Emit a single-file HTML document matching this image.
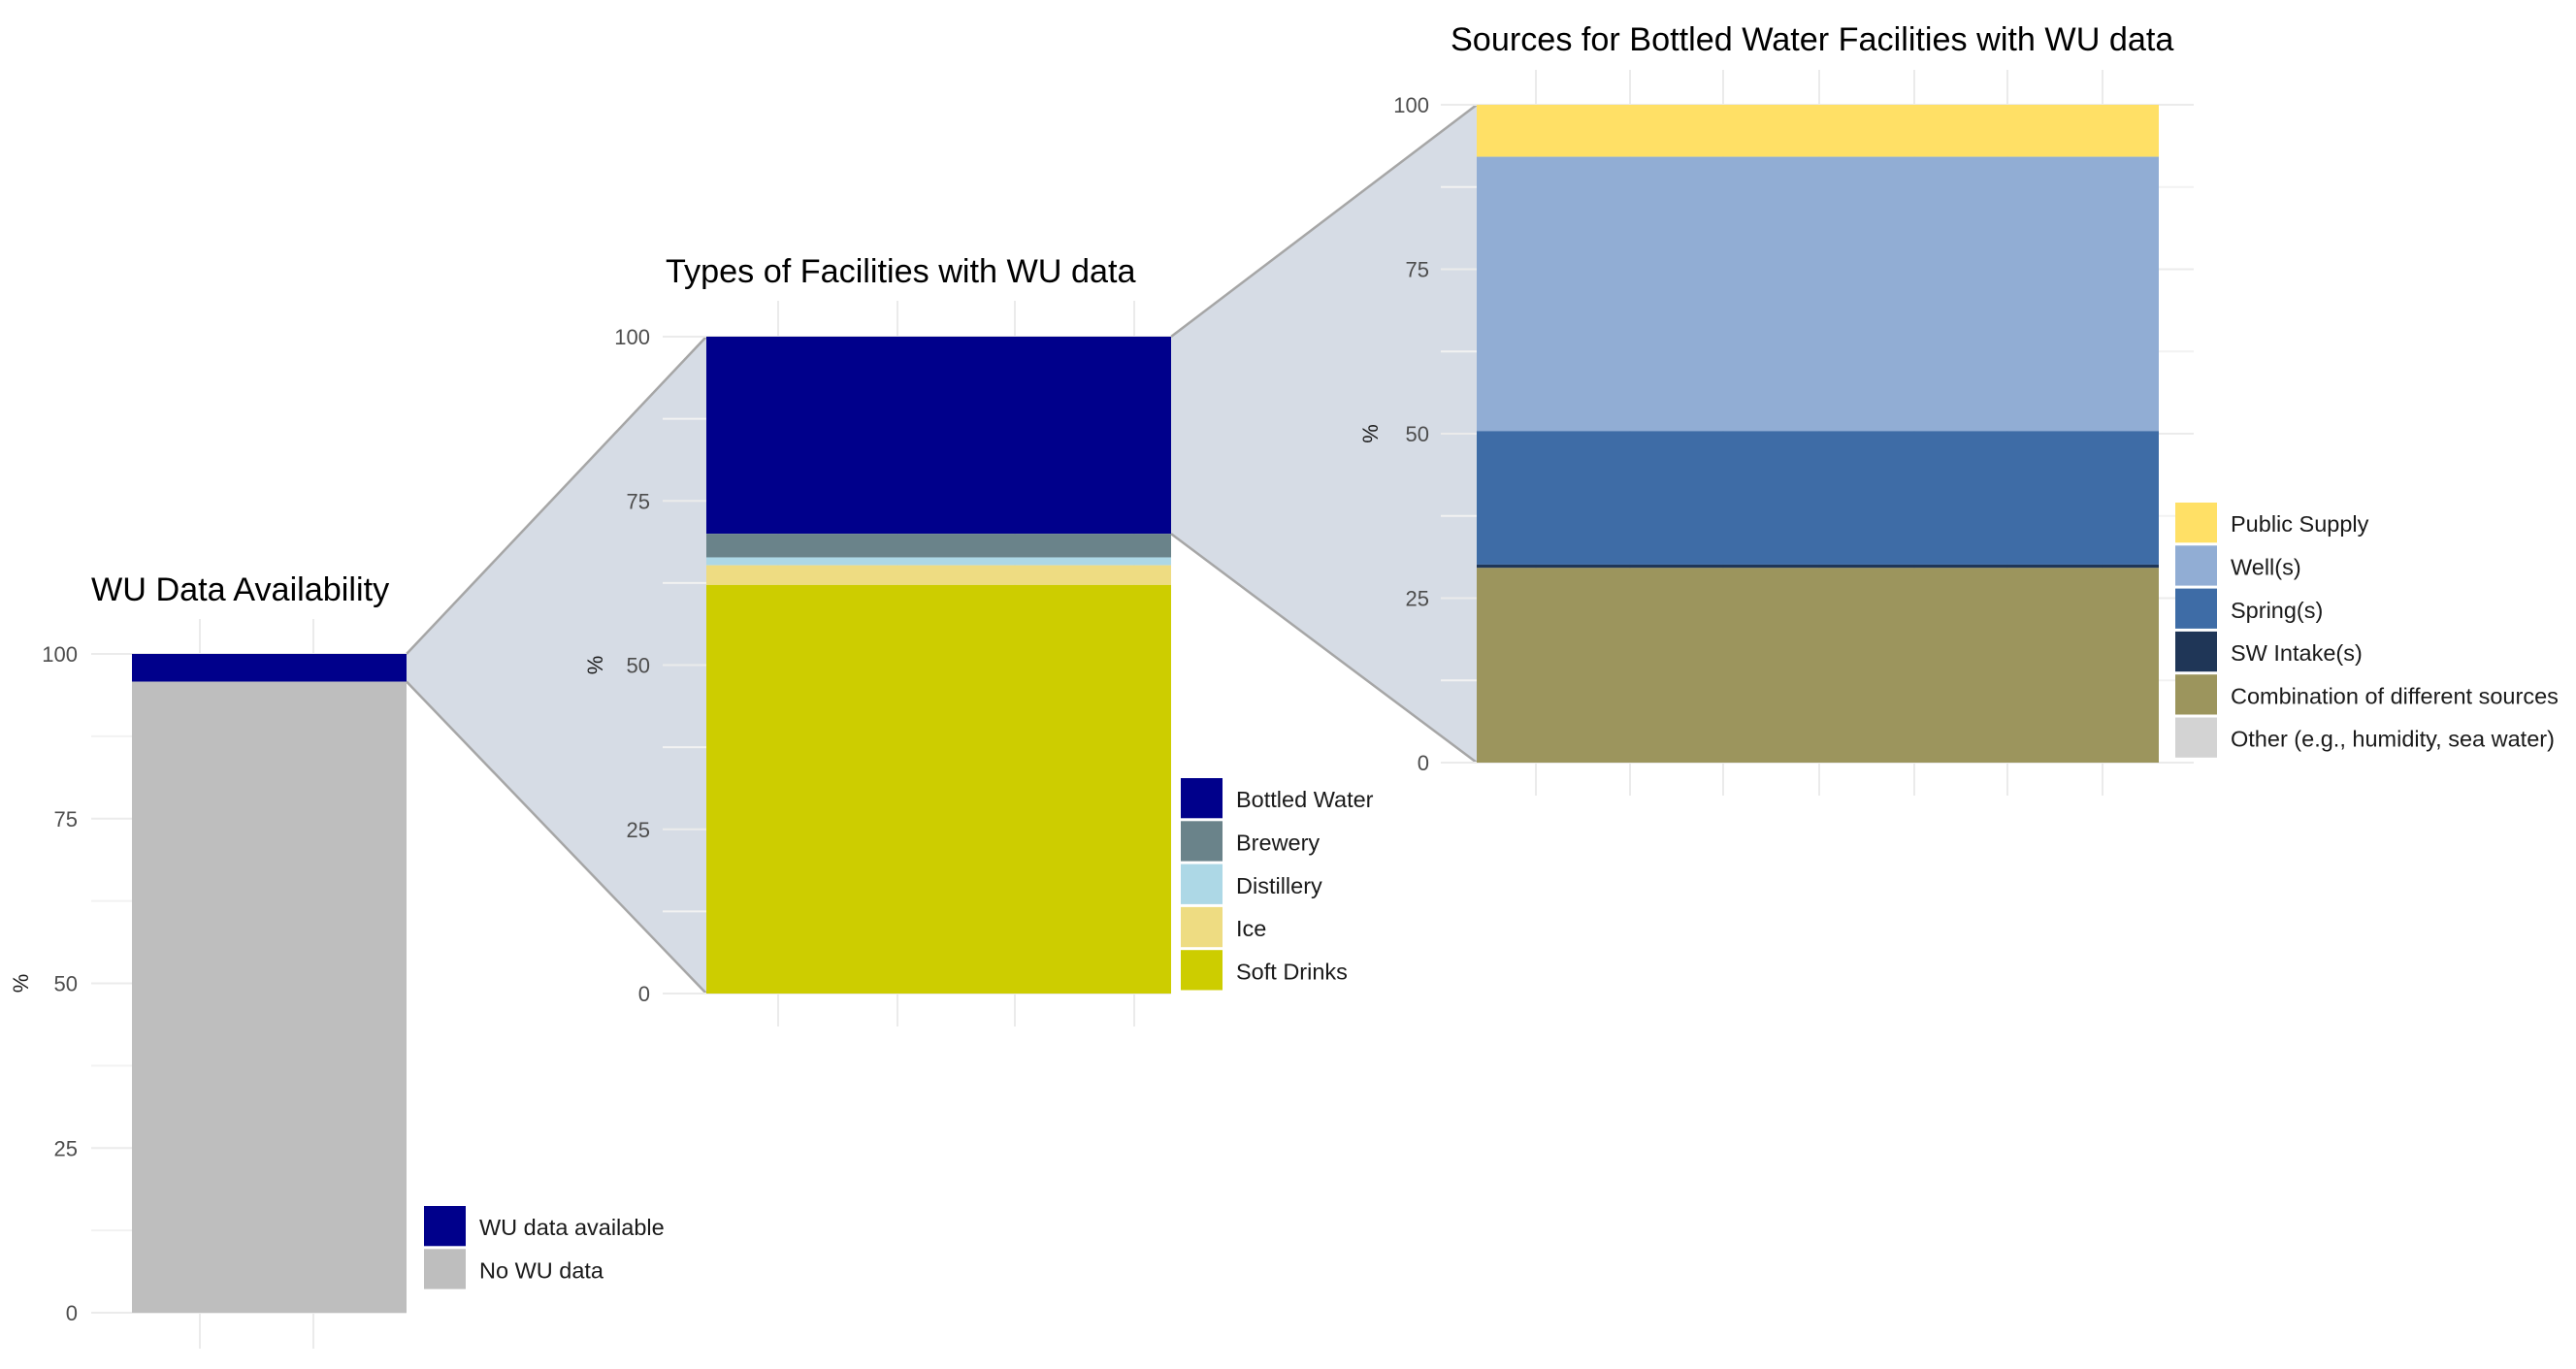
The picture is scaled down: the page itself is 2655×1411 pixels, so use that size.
<!DOCTYPE html>
<html><head><meta charset="utf-8"><style>
html,body{margin:0;padding:0;background:#fff;}
svg{display:block;font-family:"Liberation Sans",Arial,sans-serif;}
</style></head><body>
<svg id="c" width="2655" height="1411" viewBox="0 0 2655 1411" xmlns="http://www.w3.org/2000/svg"></svg>
<script>
// ---- data ----
const p1Cats = ["WU data available", "No WU data"];
const p1Vals = [4.2, 95.8];
const p1Cols = ["#00008b", "#bebebe"];
const p2Cats = ["Bottled Water", "Brewery", "Distillery", "Ice", "Soft Drinks"];
const p2Vals = [30.0, 3.6, 1.2, 3.0, 62.2];
const p2Cols = ["#00008b", "#6a838a", "#add8e6", "#eedc82", "#cdcd00"];
const p3Cats = ["Public Supply", "Well(s)", "Spring(s)", "SW Intake(s)", "Combination of different sources", "Other (e.g., humidity, sea water)"];
const p3Vals = [7.9, 41.7, 20.3, 0.5, 29.6, 0];
const p3Cols = ["#ffe066", "#91adD4", "#3e6ca6", "#1f3657", "#9c955d", "#d3d3d3"];
const yTicks = [0, 25, 50, 75, 100];

const NS = "http://www.w3.org/2000/svg";
const svg = document.getElementById("c");
function mk(tag, attrs, parent) {
  const e = document.createElementNS(NS, tag);
  for (const k in attrs) e.setAttribute(k, attrs[k]);
  (parent || svg).appendChild(e);
  return e;
}

const panels = [
  {cats:p1Cats, vals:p1Vals, cols:p1Cols, x0:136, x1:419, y0:1353, y100:674, gl:94, gTop:638, gBot:1390, vgrid:[206,323], title:"WU Data Availability", tx:94, ty:619, lblX:80, pctX:22, legX:437, legY:1243, legDy:44.3, name:"availability"},
  {cats:p2Cats, vals:p2Vals, cols:p2Cols, x0:728, x1:1207, y0:1024, y100:347, gl:683, gTop:310, gBot:1058, vgrid:[802,925,1046,1169], title:"Types of Facilities with WU data", tx:686, ty:291, lblX:670, pctX:614, legX:1217, legY:802, legDy:44.3, name:"facility-types"},
  {cats:p3Cats, vals:p3Vals, cols:p3Cols, x0:1522, x1:2225, y0:786, y100:108, gl:1485, gTop:72, gBot:820, vgrid:[1583,1680,1776,1875,1973,2069,2167], title:"Sources for Bottled Water Facilities with WU data", tx:1495, ty:52, lblX:1473, pctX:1413, legX:2242, legY:518, legDy:44.3, name:"bottled-sources"}
];
panels.forEach(p => { p.y = v => p.y0 - (p.y0 - p.y100) * v / 100; });

function wedge(a, b, segIdx, name) {
  let top = 100;
  for (let i = 0; i < segIdx; i++) top -= a.vals[i];
  const bot = top - a.vals[segIdx];
  const poly = mk("polygon", {
    points: `${a.x1},${a.y(top)} ${b.x0},${b.y(100)} ${b.x0},${b.y(0)} ${a.x1},${a.y(bot)}`,
    fill: "#d6dce5", stroke: "none"
  });
  
  
  const l1 = mk("line", {x1:a.x1, y1:a.y(top), x2:b.x0, y2:b.y(100), stroke:"#a6a6a6", "stroke-width":2.5});
  
  
  const l2 = mk("line", {x1:a.x1, y1:a.y(bot), x2:b.x0, y2:b.y(0), stroke:"#a6a6a6", "stroke-width":2.5});
  
  
}
wedge(panels[0], panels[1], 0, "zoom-wedge-1");
wedge(panels[1], panels[2], 0, "zoom-wedge-2");

panels.forEach(p => {
  const g = mk("g", {});
  
  
  p.vgrid.forEach(x => {
    const l = mk("line", {x1:x, x2:x, y1:p.gTop, y2:p.gBot, stroke:"#ebebeb", "stroke-width":2}, g);
    
    
  });
  for (let v = 0; v <= 100; v += 12.5) {
    const l = mk("line", {x1:p.gl, x2:p.x1 + (p === panels[2] ? 36 : 0), y1:p.y(v), y2:p.y(v), stroke: v % 25 === 0 ? "#ebebeb" : "#f2f2f2", "stroke-width":2}, g);
    
    
  }
  yTicks.forEach(v => {
    const t = mk("text", {x:p.lblX, y:p.y(v) + 8, "text-anchor":"end", "font-size":22, fill:"#4d4d4d"}, g);
    t.textContent = v;
    
    
  });
  const pt = mk("text", {x:0, y:0, "font-size":22, fill:"#1a1a1a", "text-anchor":"middle", transform:`translate(${p.pctX + 7},${p.y(50)}) rotate(-90)`}, g);
  pt.textContent = "%";
  
  
  let top = 100;
  p.vals.forEach((v, i) => {
    if (v <= 0) { return; }
    const r = mk("rect", {x:p.x0, y:p.y(top), width:p.x1 - p.x0, height:p.y(top - v) - p.y(top), fill:p.cols[i]}, g);
    
    
    top -= v;
  });
  const tt = mk("text", {x:p.tx, y:p.ty, "font-size":34.2, fill:"#000"}, g);
  tt.textContent = p.title;
  
  
  p.cats.forEach((c, i) => {
    const y = p.legY + i * p.legDy;
    const s = mk("rect", {x:p.legX, y:y, width:43, height:p.legDy - 3, fill:p.cols[i]}, g);
    
    
    const t = mk("text", {x:p.legX + 57, y:y + p.legDy / 2 + 8, "font-size":23.5, fill:"#1a1a1a"}, g);
    t.textContent = c;
    
    
  });
});
</script>
</body></html>
